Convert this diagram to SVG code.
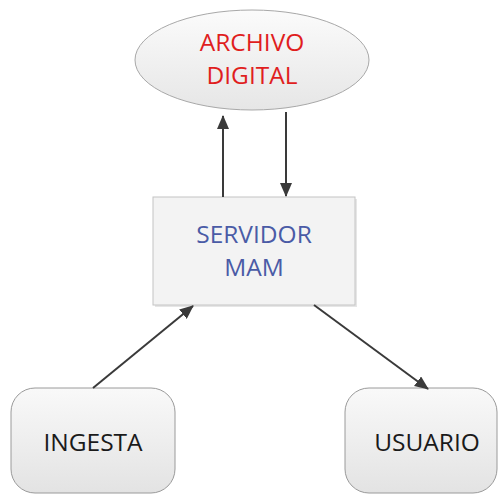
<svg xmlns="http://www.w3.org/2000/svg" width="501" height="497" viewBox="0 0 501 497">
  <defs>
    <linearGradient id="gEll" x1="0" y1="0" x2="0" y2="1">
      <stop offset="0" stop-color="#fbfbfb"/>
      <stop offset="1" stop-color="#e6e6e6"/>
    </linearGradient>
    <linearGradient id="gBox" x1="0" y1="0" x2="0" y2="1">
      <stop offset="0" stop-color="#f9f9f9"/>
      <stop offset="1" stop-color="#e3e3e3"/>
    </linearGradient>
    <marker id="arrow" viewBox="0 0 14 12" refX="13" refY="6" markerWidth="14" markerHeight="12" markerUnits="userSpaceOnUse" orient="auto">
      <path d="M0,0 L14,6 L0,12 Z" fill="#3a3a3a"/>
    </marker>
  </defs>
  <style>
    .lbl { font-family: "Open Sans", "Liberation Sans", Arial, sans-serif; font-size: 24.5px; text-anchor: middle; }
    .edge { stroke: #3a3a3a; stroke-width: 2; fill: none; marker-end: url(#arrow); }
    .term { fill: url(#gBox); stroke: #9a9a9a; stroke-width: 1; }
  </style>
  <rect width="501" height="497" fill="#ffffff"/>

  <g id="archivo">
    <ellipse cx="252" cy="60" rx="117" ry="50" fill="url(#gEll)" stroke="#a8a8a8" stroke-width="1"/>
    <text class="lbl" x="252" y="51" fill="#e01e1e">ARCHIVO</text>
    <text class="lbl" x="252" y="84" fill="#e01e1e">DIGITAL</text>
  </g>

  <g id="servidor">
    <rect x="155" y="199" width="202" height="108" fill="#e6e6e6"/>
    <rect x="153" y="197" width="202" height="108" fill="#f3f3f3" stroke="#c4c4c4" stroke-width="1"/>
    <text class="lbl" x="254" y="243" fill="#4a5ba6">SERVIDOR</text>
    <text class="lbl" x="254" y="276" fill="#4a5ba6">MAM</text>
  </g>

  <g id="ingesta">
    <rect class="term" x="11" y="388" width="164" height="105" rx="24" ry="24"/>
    <text class="lbl" x="93" y="451" fill="#1a1a1a">INGESTA</text>
  </g>

  <g id="usuario">
    <rect class="term" x="345" y="388" width="152" height="105" rx="24" ry="24"/>
    <text class="lbl" x="427" y="451" fill="#1a1a1a">USUARIO</text>
  </g>

  <g id="connectors">
    <line class="edge" x1="223" y1="197" x2="223" y2="116"/>
    <line class="edge" x1="286" y1="112" x2="286" y2="196"/>
    <line class="edge" x1="93" y1="388" x2="193" y2="306"/>
    <line class="edge" x1="314" y1="305" x2="428" y2="389"/>
  </g>
</svg>
